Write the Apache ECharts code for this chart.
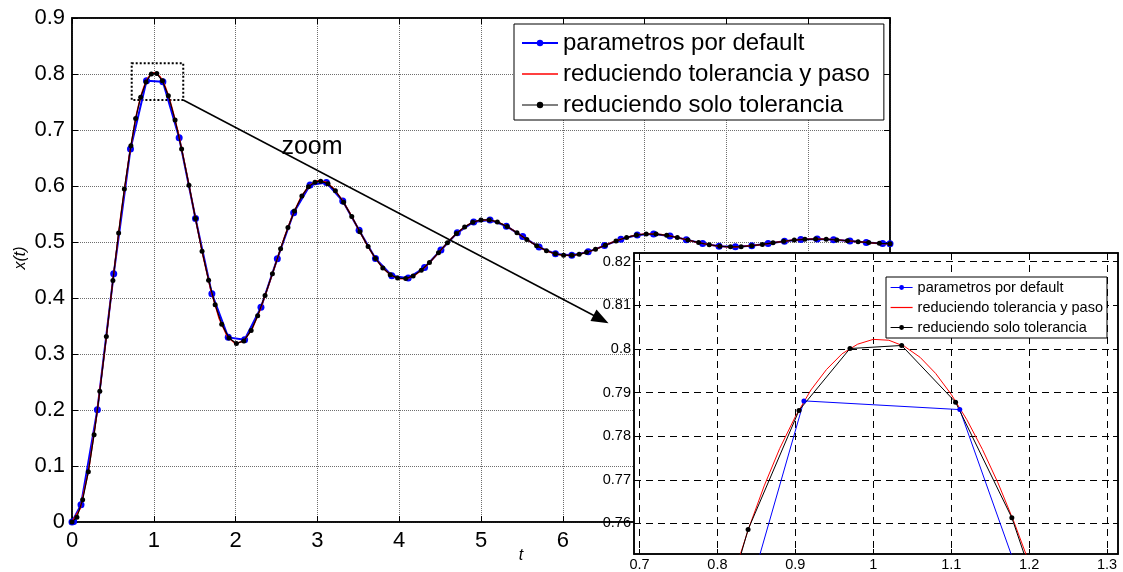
<!DOCTYPE html>
<html>
<head>
<meta charset="utf-8">
<script src="https://cdn.jsdelivr.net/npm/echarts@6/dist/echarts.min.js"></script>
<style>
html,body{margin:0;padding:0;background:#fff;}
#chart{width:1123px;height:572px;}
</style>
</head>
<body>
<div id="chart"></div>
<script>
// ---------------- data ----------------
const seriesNames = ['parametros por default', 'reduciendo tolerancia y paso', 'reduciendo solo tolerancia'];

// blue: default parameters
const tBlue = [0, 0.02, 0.11, 0.31, 0.51, 0.715, 0.911, 1.111, 1.31, 1.51, 1.71, 1.91, 2.11, 2.31, 2.51, 2.71, 2.91,
  3.11, 3.31, 3.51, 3.71, 3.91, 4.11, 4.31, 4.51, 4.71, 4.91, 5.11, 5.31, 5.51, 5.71, 5.91, 6.11, 6.31, 6.51, 6.71,
  6.91, 7.11, 7.31, 7.51, 7.71, 7.91, 8.11, 8.31, 8.51, 8.71, 8.91, 9.11, 9.31, 9.51, 9.71, 9.91, 10];
const xBlue = [0, 0.0010, 0.0310, 0.2004, 0.4432, 0.6659, 0.7881, 0.7861, 0.6860, 0.5419, 0.4077, 0.3297, 0.3254,
  0.3833, 0.4702, 0.5523, 0.6017, 0.6061, 0.5732, 0.5208, 0.4707, 0.4398, 0.4355, 0.4544, 0.4858, 0.5164, 0.5358,
  0.5392, 0.5283, 0.5096, 0.4909, 0.4788, 0.4762, 0.4824, 0.4936, 0.5050, 0.5126, 0.5144, 0.5109, 0.5042, 0.4973,
  0.4926, 0.4913, 0.4933, 0.4972, 0.5014, 0.5044, 0.5053, 0.5042, 0.5018, 0.4993, 0.4974, 0.4970];

// red: reduced tolerance and step
const tRed = [0, 0.1, 0.2, 0.3, 0.4, 0.5, 0.6, 0.7, 0.78, 0.80, 0.82, 0.84, 0.86, 0.88, 0.90, 0.92, 0.94, 0.96, 0.98,
  1.00, 1.02, 1.04, 1.06, 1.08, 1.10, 1.12, 1.14, 1.16, 1.18, 1.20, 1.22, 1.24, 1.3, 1.4, 1.5, 1.6, 1.7, 1.8, 1.9,
  2.0, 2.1, 2.2, 2.3, 2.4, 2.5, 2.6, 2.7, 2.8, 2.9, 3.0, 3.1, 3.2, 3.3, 3.4, 3.5, 3.6, 3.7, 3.8, 3.9, 4.0, 4.1, 4.2,
  4.3, 4.4, 4.5, 4.6, 4.7, 4.8, 4.9, 5.0, 5.1, 5.2, 5.3, 5.4, 5.5, 5.6, 5.7, 5.8, 5.9, 6.0, 6.1, 6.2, 6.3, 6.4, 6.5,
  6.6, 6.7, 6.8, 6.9, 7.0, 7.1, 7.2, 7.3, 7.4, 7.5, 7.6, 7.7, 7.8, 7.9, 8.0, 8.1, 8.2, 8.3, 8.4, 8.5, 8.6, 8.7, 8.8,
  8.9, 9.0, 9.1, 9.2, 9.3, 9.4, 9.5, 9.6, 9.7, 9.8, 9.9, 10];
const xRed = [0, 0.0238, 0.0899, 0.1886, 0.3062, 0.4312, 0.5508, 0.6540, 0.7219, 0.7354, 0.7477, 0.7588, 0.7686,
  0.7772, 0.7845, 0.7906, 0.7953, 0.7989, 0.8011, 0.8022, 0.8020, 0.8006, 0.7981, 0.7944, 0.7896, 0.7838, 0.7770,
  0.7693, 0.7606, 0.7510, 0.7407, 0.7296, 0.6942, 0.6238, 0.5491, 0.4764, 0.4127, 0.3629, 0.3309, 0.3183, 0.3234,
  0.3439, 0.3791, 0.4212, 0.4657, 0.5100, 0.5492, 0.5803, 0.6008, 0.6094, 0.6073, 0.5954, 0.5757, 0.5509, 0.5235,
  0.4966, 0.4726, 0.4535, 0.4404, 0.4342, 0.4348, 0.4415, 0.4529, 0.4677, 0.4841, 0.5005, 0.5152, 0.5270, 0.5354,
  0.5395, 0.5395, 0.5359, 0.5292, 0.5205, 0.5106, 0.5007, 0.4917, 0.4843, 0.4791, 0.4763, 0.4760, 0.4780, 0.4819,
  0.4871, 0.4930, 0.4990, 0.5045, 0.5091, 0.5124, 0.5142, 0.5145, 0.5134, 0.5112, 0.5081, 0.5046, 0.5010, 0.4976,
  0.4948, 0.4927, 0.4915, 0.4912, 0.4918, 0.4931, 0.4949, 0.4970, 0.4992, 0.5013, 0.5030, 0.5043, 0.5051, 0.5053,
  0.5050, 0.5043, 0.5032, 0.5019, 0.5006, 0.4994, 0.4983, 0.4975, 0.4970];

// black: reduced tolerance only
const tBlack = [0, 0.06, 0.13, 0.2, 0.27, 0.34, 0.42, 0.5, 0.57, 0.64, 0.72, 0.778, 0.8394, 0.9047, 0.9701, 1.0364,
  1.1056, 1.1778, 1.26, 1.34, 1.43, 1.51, 1.59, 1.67, 1.75, 1.83, 1.92, 2.01, 2.1, 2.19, 2.27, 2.36, 2.45, 2.55, 2.64,
  2.72, 2.81, 2.89, 2.97, 3.04, 3.13, 3.22, 3.32, 3.42, 3.52, 3.62, 3.71, 3.8, 3.89, 3.98, 4.08, 4.17, 4.27, 4.37,
  4.48, 4.59, 4.7, 4.8, 4.9, 5.0, 5.1, 5.2, 5.32, 5.44, 5.56, 5.68, 5.8, 5.91, 6.01, 6.11, 6.2, 6.29, 6.4, 6.52, 6.65,
  6.78, 6.9, 7.02, 7.14, 7.27, 7.4, 7.53, 7.66, 7.79, 7.92, 8.05, 8.18, 8.31, 8.44, 8.57, 8.7, 8.83, 8.96, 9.09, 9.22,
  9.35, 9.48, 9.61, 9.74, 9.87, 10];
const xBlack = [0, 0.0087, 0.0396, 0.0899, 0.1560, 0.2334, 0.3311, 0.4312, 0.5161, 0.5945, 0.6720, 0.7207, 0.7586,
  0.7859, 0.8001, 0.8008, 0.7878, 0.7613, 0.7180, 0.6660, 0.6014, 0.5419, 0.4836, 0.4318, 0.3878, 0.3533, 0.3284,
  0.3188, 0.3234, 0.3418, 0.3685, 0.4044, 0.4435, 0.4879, 0.5257, 0.5554, 0.5823, 0.5988, 0.6068, 0.6086, 0.6038,
  0.5915, 0.5708, 0.5454, 0.5181, 0.4918, 0.4707, 0.4535, 0.4417, 0.4355, 0.4347, 0.4395, 0.4495, 0.4633, 0.4809,
  0.4988, 0.5152, 0.5270, 0.5354, 0.5395, 0.5395, 0.5359, 0.5275, 0.5165, 0.5046, 0.4935, 0.4843, 0.4788, 0.4763,
  0.4762, 0.4780, 0.4815, 0.4871, 0.4942, 0.5018, 0.5082, 0.5124, 0.5143, 0.5141, 0.5119, 0.5081, 0.5035, 0.4989,
  0.4951, 0.4924, 0.4914, 0.4917, 0.4933, 0.4957, 0.4985, 0.5013, 0.5034, 0.5048, 0.5053, 0.5049, 0.5037, 0.5022,
  0.5005, 0.4989, 0.4977, 0.4970];

// inset tick values
const insetXTicks = [0.7, 0.8, 0.9, 1, 1.1, 1.2, 1.3];
const insetYTicks = [0.76, 0.77, 0.78, 0.79, 0.8, 0.81, 0.82];

// ---------------- chart ----------------
const FONT = '"Liberation Sans", Arial, Helvetica, sans-serif';
const pairs = (t, x) => t.map((v, i) => [v, x[i]]);
const blueData = pairs(tBlue, xBlue);
const redData = pairs(tRed, xRed);
const blackData = pairs(tBlack, xBlack);

const chart = echarts.init(document.getElementById('chart'), null, {renderer: 'canvas'});

const mainSplit = {show: true, lineStyle: {color: '#6e6e6e', type: 'dotted', width: 1}};
const insetSplit = {show: true, lineStyle: {color: '#000', type: [7, 5], width: 1}};
const noDot = {color: 'rgba(0,0,0,0)', borderWidth: 0, borderColor: 'rgba(0,0,0,0)'};

const option = {
  animation: false,
  backgroundColor: '#fff',
  textStyle: {fontFamily: FONT, color: '#000'},
  grid: [
    {left: 72, top: 18, width: 818, height: 504, show: true, borderColor: '#000', borderWidth: 1.5,
     backgroundColor: 'transparent'},
    {left: 634, top: 253, width: 484, height: 301, show: true, borderColor: '#000', borderWidth: 1.5,
     backgroundColor: 'transparent', z: 10}
  ],
  xAxis: [
    {gridIndex: 0, type: 'value', min: 0, max: 10, interval: 1, position: 'bottom',
     axisLine: {show: true, onZero: false, lineStyle: {color: '#000', width: 1.5}},
     axisTick: {show: true, inside: true, length: 6, lineStyle: {color: '#000'}},
     axisLabel: {fontSize: 22, color: '#000', margin: 8, fontFamily: FONT},
     splitLine: mainSplit},
    {gridIndex: 0, type: 'value', min: 0, max: 10, interval: 1, position: 'top',
     axisLine: {show: true, onZero: false, lineStyle: {color: '#000', width: 1.5}},
     axisTick: {show: true, inside: true, length: 6, lineStyle: {color: '#000'}},
     axisLabel: {show: false}, splitLine: {show: false}},
    {gridIndex: 1, type: 'value', min: 0.693, max: 1.314, position: 'bottom', z: 10,
     axisLine: {show: true, onZero: false, lineStyle: {color: '#000', width: 1.5}},
     axisTick: {show: true, inside: true, length: 5, customValues: insetXTicks, lineStyle: {color: '#000'}},
     axisLabel: {fontSize: 14.5, color: '#000', margin: 3, customValues: insetXTicks, fontFamily: FONT},
     splitLine: insetSplit},
    {gridIndex: 1, type: 'value', min: 0.693, max: 1.314, position: 'top', z: 10,
     axisLine: {show: true, onZero: false, lineStyle: {color: '#000', width: 1.5}},
     axisTick: {show: true, inside: true, length: 5, customValues: insetXTicks, lineStyle: {color: '#000'}},
     axisLabel: {show: false}, splitLine: {show: false}}
  ],
  yAxis: [
    {gridIndex: 0, type: 'value', min: 0, max: 0.9, interval: 0.1, position: 'left',
     axisLine: {show: true, onZero: false, lineStyle: {color: '#000', width: 1.5}},
     axisTick: {show: true, inside: true, length: 6, lineStyle: {color: '#000'}},
     axisLabel: {fontSize: 22, color: '#000', margin: 7, fontFamily: FONT},
     splitLine: mainSplit},
    {gridIndex: 0, type: 'value', min: 0, max: 0.9, interval: 0.1, position: 'right',
     axisLine: {show: true, onZero: false, lineStyle: {color: '#000', width: 1.5}},
     axisTick: {show: true, inside: true, length: 6, lineStyle: {color: '#000'}},
     axisLabel: {show: false}, splitLine: {show: false}},
    {gridIndex: 1, type: 'value', min: 0.753, max: 0.822, position: 'left', z: 10,
     axisLine: {show: true, onZero: false, lineStyle: {color: '#000', width: 1.5}},
     axisTick: {show: true, inside: true, length: 5, customValues: insetYTicks, lineStyle: {color: '#000'}},
     axisLabel: {fontSize: 14.5, color: '#000', margin: 3, customValues: insetYTicks, fontFamily: FONT},
     splitLine: insetSplit},
    {gridIndex: 1, type: 'value', min: 0.753, max: 0.822, position: 'right', z: 10,
     axisLine: {show: true, onZero: false, lineStyle: {color: '#000', width: 1.5}},
     axisTick: {show: true, inside: true, length: 5, customValues: insetYTicks, lineStyle: {color: '#000'}},
     axisLabel: {show: false}, splitLine: {show: false}}
  ],
  legend: [
    {orient: 'vertical', left: 514, top: 24, padding: [7, 14, 3, 7], itemWidth: 36, itemHeight: 8,
     itemGap: 7, itemTextGap: 5, selectedMode: false, z: 5,
     backgroundColor: '#fff', borderColor: '#000', borderWidth: 1, borderRadius: 0,
     textStyle: {fontSize: 24, color: '#000', fontFamily: FONT},
     data: [
       {name: seriesNames[0], lineStyle: {width: 2}},
       {name: seriesNames[1], itemStyle: noDot, lineStyle: {width: 1.5, color: '#ff0000'}},
       {name: seriesNames[2], lineStyle: {width: 1.5, color: '#555'}}
     ]},
    {orient: 'vertical', left: 886, top: 277, padding: [3, 4, 3, 4], itemWidth: 22, itemHeight: 6,
     itemGap: 5, itemTextGap: 3, selectedMode: false, z: 12,
     backgroundColor: '#fff', borderColor: '#000', borderWidth: 1, borderRadius: 0,
     textStyle: {fontSize: 14.5, color: '#000', fontFamily: FONT},
     data: [
       {name: seriesNames[0], lineStyle: {width: 1, color: '#0000ff'}},
       {name: seriesNames[1], itemStyle: noDot, lineStyle: {width: 1.2, color: '#ff0000'}},
       {name: seriesNames[2], lineStyle: {width: 1, color: '#000'}}
     ]}
  ],
  graphic: [
    {type: 'rect', z: 9, silent: true, shape: {x: 634, y: 253, width: 484, height: 301},
     style: {fill: '#fff'}},
    {type: 'text', z: 6, x: 312, y: 147, silent: true,
     style: {text: 'zoom', font: '25px ' + FONT, fill: '#000', align: 'center', verticalAlign: 'middle'}},
    {type: 'text', z: 6, x: 521, y: 556, silent: true,
     style: {text: 't', font: 'italic 16px ' + FONT, fill: '#000', align: 'center', verticalAlign: 'middle'}},
    {type: 'text', z: 6, x: 21, y: 258, rotation: Math.PI / 2, silent: true,
     style: {text: 'x(t)', font: 'italic 16px ' + FONT, fill: '#000', align: 'center', verticalAlign: 'middle'}}
  ],
  series: [
    {name: seriesNames[0], type: 'line', xAxisIndex: 0, yAxisIndex: 0, data: blueData,
     symbol: 'circle', symbolSize: 7, showSymbol: true, showAllSymbol: true,
     lineStyle: {color: '#0000ff', width: 2}, itemStyle: {color: '#0000ff'}, z: 2},
    {name: seriesNames[1], type: 'line', xAxisIndex: 0, yAxisIndex: 0, data: redData,
     symbol: 'none', lineStyle: {color: '#ff0000', width: 1.5}, itemStyle: {color: '#ff0000'}, z: 3},
    {name: seriesNames[2], type: 'line', xAxisIndex: 0, yAxisIndex: 0, data: blackData,
     symbol: 'circle', symbolSize: 5, showSymbol: true, showAllSymbol: true,
     lineStyle: {color: '#000', width: 1.2}, itemStyle: {color: '#000'}, z: 4,
     markArea: {silent: true,
       itemStyle: {color: 'rgba(0,0,0,0)', borderColor: '#000', borderWidth: 2, borderType: 'dotted'},
       data: [[{coord: [0.73, 0.819]}, {coord: [1.36, 0.7536]}]]},
     markLine: {silent: true, animation: false, label: {show: false},
       lineStyle: {color: '#000', width: 1.5, type: 'solid'},
       emphasis: {disabled: true},
       data: [[{coord: [1.36, 0.7536], symbol: 'none'},
               {coord: [6.467, 0.362], symbol: 'triangle', symbolSize: [13, 17]}]]}},
    // inset copies
    {name: seriesNames[0], type: 'line', xAxisIndex: 2, yAxisIndex: 2, data: blueData, z: 10,
     symbol: 'circle', symbolSize: 5, showSymbol: true, showAllSymbol: true, clip: true,
     lineStyle: {color: '#0000ff', width: 1}, itemStyle: {color: '#0000ff'}},
    {name: seriesNames[1], type: 'line', xAxisIndex: 2, yAxisIndex: 2, data: redData, z: 10,
     symbol: 'none', clip: true, lineStyle: {color: '#ff0000', width: 1}, itemStyle: {color: '#ff0000'}},
    {name: seriesNames[2], type: 'line', xAxisIndex: 2, yAxisIndex: 2, data: blackData, z: 10,
     symbol: 'circle', symbolSize: 5, showSymbol: true, showAllSymbol: true, clip: true,
     lineStyle: {color: '#000', width: 1}, itemStyle: {color: '#000'}}
  ]
};
chart.setOption(option);
</script>
</body>
</html>
